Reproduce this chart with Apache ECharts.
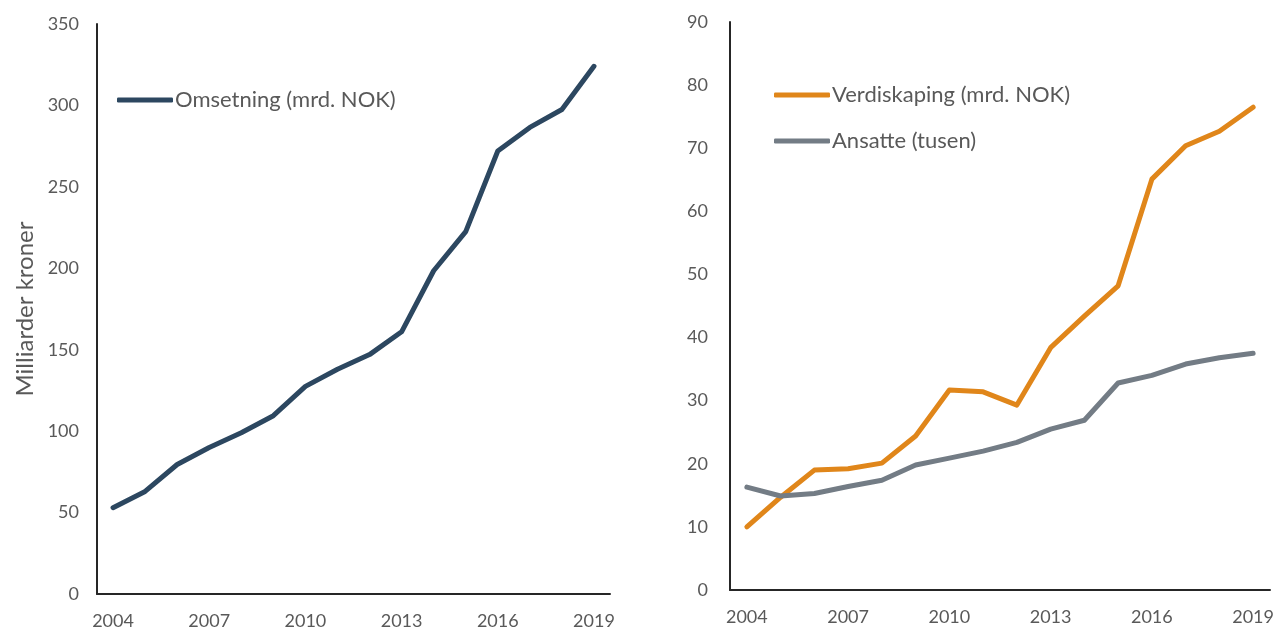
<!DOCTYPE html>
<html>
<head>
<meta charset="utf-8">
<script src="https://cdn.jsdelivr.net/npm/echarts@6/dist/echarts.min.js"></script>
<style>
  html, body { margin: 0; padding: 0; background: #fff; }
  #chart { width: 1277px; height: 631px; }
</style>
</head>
<body>
<div id="chart"></div>
<script>
const years = ["2004", "2005", "2006", "2007", "2008", "2009", "2010", "2011",
  "2012", "2013", "2014", "2015", "2016", "2017", "2018", "2019"];
const omsetning = [53, 63, 79.5, 90, 99, 109.5, 127.5, 138, 147, 161, 198.5, 222.5, 272, 286.5, 297.5, 324];
const verdiskaping = [10, 14.7, 19, 19.2, 20.1, 24.4, 31.7, 31.4, 29.3, 38.4, 43.4, 48.2, 65.1, 70.4, 72.7, 76.5];
const ansatte = [16.3, 14.9, 15.3, 16.4, 17.4, 19.8, 20.9, 22, 23.4, 25.5, 26.9, 32.8, 34, 35.8, 36.8, 37.5];

const textColor = "#595959";
const font = "Lato";

const chart = echarts.init(document.getElementById("chart"));

const xAxisBase = (gridIndex) => ({
  type: "category",
  gridIndex: gridIndex,
  data: years,
  boundaryGap: true,
  axisLine: { lineStyle: { color: "#262626", width: 2 } },
  axisTick: { show: false },
  axisLabel: { interval: 2, color: textColor, fontFamily: font, fontSize: 18, margin: 18 },
  splitLine: { show: false },
});

const yAxisBase = (gridIndex, max, interval, margin) => ({
  type: "value",
  gridIndex: gridIndex,
  min: 0,
  max: max,
  interval: interval,
  axisLine: { show: true, lineStyle: { color: "#262626", width: 2 } },
  axisTick: { show: false },
  axisLabel: { color: textColor, fontFamily: font, fontSize: 18, margin: margin },
  splitLine: { show: false },
});

const lineStyle = (color) => ({
  type: "line",
  symbol: "none",
  lineStyle: { color: color, width: 5, cap: "round", join: "round" },
  itemStyle: { color: color },
});

const legendText = { color: textColor, fontFamily: font, fontSize: 22, padding: [0, 0, 0, -3] };

chart.setOption({
  animation: false,
  grid: [
    { left: 97, right: 667, top: 24, bottom: 37 },
    { left: 730, right: 7, top: 22, bottom: 41 },
  ],
  legend: [
    {
      left: 112, top: 84,
      data: ["Omsetning (mrd. NOK)"],
      icon: "roundRect",
      itemWidth: 56, itemHeight: 5,
      textStyle: legendText,
    },
    {
      left: 769, top: 79,
      orient: "vertical",
      itemGap: 24,
      data: ["Verdiskaping (mrd. NOK)", "Ansatte (tusen)"],
      icon: "roundRect",
      itemWidth: 56, itemHeight: 5,
      textStyle: legendText,
    },
  ],
  xAxis: [xAxisBase(0), xAxisBase(1)],
  yAxis: [
    Object.assign(yAxisBase(0, 350, 50, 18), {
      name: "Milliarder kroner",
      nameLocation: "middle",
      nameGap: 60,
      nameTextStyle: { color: textColor, fontFamily: font, fontSize: 24 },
    }),
    yAxisBase(1, 90, 10, 22),
  ],
  series: [
    Object.assign(lineStyle("#2C4760"), { name: "Omsetning (mrd. NOK)", xAxisIndex: 0, yAxisIndex: 0, data: omsetning }),
    Object.assign(lineStyle("#E0861A"), { name: "Verdiskaping (mrd. NOK)", xAxisIndex: 1, yAxisIndex: 1, data: verdiskaping }),
    Object.assign(lineStyle("#737C85"), { name: "Ansatte (tusen)", xAxisIndex: 1, yAxisIndex: 1, data: ansatte }),
  ],
});
</script>
</body>
</html>
